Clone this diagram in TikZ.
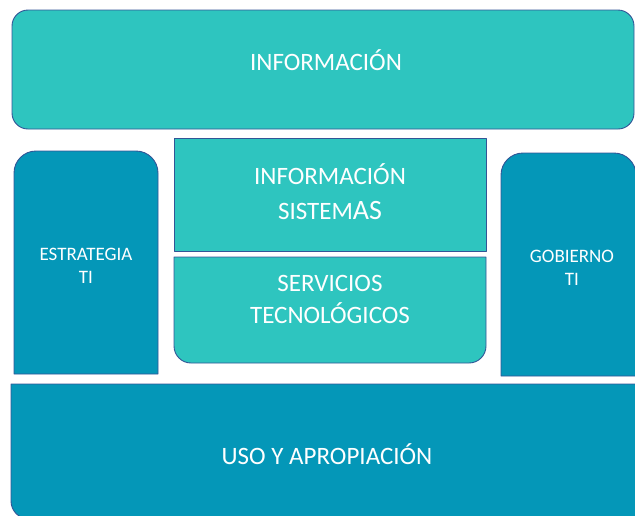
\documentclass[tikz,border=0pt]{standalone}
\usepackage{fontspec}
\setmainfont{Carlito}
\definecolor{tealA}{RGB}{46,197,191}
\definecolor{tealB}{RGB}{4,151,184}
\definecolor{frame}{RGB}{50,85,150}
\begin{document}
\begin{tikzpicture}[x=1pt,y=-1pt,line join=round,
  blockA/.style={fill=tealA,draw=frame,line width=0.9pt},
  blockB/.style={fill=tealB,draw=frame,line width=0.9pt},
  bigtext/.style={text=white,align=center,inner sep=0pt,font=\fontsize{25}{35}\selectfont},
  smalltext/.style={text=white,align=center,inner sep=0pt,font=\fontsize{19}{23}\selectfont}]

\useasboundingbox (0,0) rectangle (635,515);

% top band
\draw[blockA,rounded corners=16] (12,10) rectangle (634,129);

% left column (rounded on top)
\draw[blockB] (14,374) [rounded corners=22] -- (14,151) -- (158,151) [sharp corners] -- (158,374) -- cycle;

% right column (rounded on top)
\draw[blockB] (501,376) [rounded corners=22] -- (501,153) -- (636,153) [sharp corners] -- (636,376) -- cycle;

% middle blocks
\draw[blockA] (174,138) rectangle (486,251);
\draw[blockA] (486,257) [rounded corners=17] -- (486,363) -- (174,363) [sharp corners] -- (174,257) -- cycle;

% bottom band (rounded bottom left)
\draw[blockB] (640,384) -- (640,519) [rounded corners=18] -- (11,519) [sharp corners] -- (11,384) -- cycle;

% texts
\node[bigtext] (info) at (326,60) {INFORMACIÓN};
\node[bigtext] (sis) at (330,192) {INFORMACIÓN\\SISTEM{\fontsize{28}{35}\selectfont AS}};
\node[bigtext,font=\fontsize{25}{32}\selectfont] (serv) at (330,299) {SERVICIOS\\TECNOLÓGICOS};
\node[smalltext] (estr) at (86,266) {ESTRATEGIA\\TI};
\node[smalltext] (gob) at (572,268) {GOBIERNO\\TI};
\node[bigtext] (uso) at (327,454) {USO Y APROPIACIÓN};

\end{tikzpicture}
\end{document}
